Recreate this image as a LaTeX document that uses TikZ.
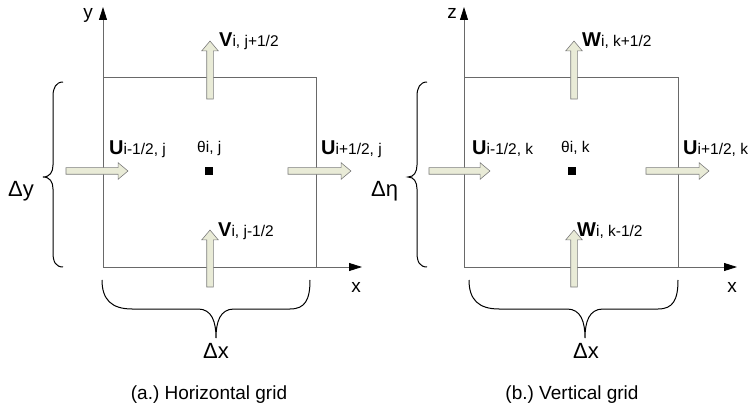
\documentclass[tikz,border=0pt]{standalone}
\usepackage{fontspec}
\setmainfont{Liberation Sans}
\frenchspacing
\usetikzlibrary{arrows.meta, shapes.arrows}
\definecolor{fluxfill}{RGB}{233,235,215}
\definecolor{fluxline}{RGB}{125,125,125}
\definecolor{gridline}{RGB}{105,105,105}
\newcommand{\flux}[2]{{\fontsize{20}{23}\selectfont\bfseries #1}#2}

\begin{document}
\begin{tikzpicture}[x=1pt, y=-1pt,
        % cell outline
        cell/.style={draw=gridline, line width=0.8pt},
        % coordinate axes
        axis/.style={draw=gridline, line width=0.8pt, -{Triangle[length=13pt, width=8pt, color=black]}},
        % face velocity arrows
        flow/.style={single arrow, draw=fluxline, fill=fluxfill, line width=0.6pt, inner sep=3pt, single arrow head extend=5pt, single arrow tip angle=80, minimum height=#1},
        % labels
        lab/.style={anchor=base west, inner sep=0pt, font=\fontsize{15.5}{18}\selectfont},
        axlab/.style={anchor=base, inner sep=0pt, font=\fontsize{19}{22}\selectfont},
        big/.style={inner sep=0pt, font=\fontsize{22}{26}\selectfont},
        caption/.style={anchor=base, inner sep=0pt, font=\fontsize{19}{23}\selectfont},
        centre/.style={fill=black, minimum size=8pt, inner sep=0pt},
        brace/.style={draw=black, line width=1pt}
    ]
    \useasboundingbox (0,0) rectangle (750,406);

    % (a.) horizontal grid
    \coordinate (oa) at (103,267);
    \coordinate (ta) at (316,77);
    \coordinate (ya) at (103,7);
    \coordinate (xa) at (362,267);
    \draw[cell] (oa) rectangle (ta);
    \draw[axis] (oa) -- (ya);
    \draw[axis] (oa) -- (xa);
    \node[axlab] (ylab) at (88,19) {y};
    \node[axlab] (xlab) at (356,292) {x};

    \node[flow=62pt] (ula) at (95,171) {};
    \node[flow=63pt] (ura) at (317.5,171) {};
    \node[flow=58pt, rotate=90] (vta) at (210,72) {};
    \node[flow=57pt, rotate=90] (vba) at (210,260.5) {};
    \node[centre] (ca) at (209,171) {};

    \node[lab] (uml) at (109,155) {\flux{U}{i-1/2, j}};
    \node[lab] (thla) at (197,153) {θi, j};
    \node[lab] (upl) at (321,155) {\flux{U}{i+1/2, j}};
    \node[lab] (vpl) at (219,47) {\flux{V}{i, j+1/2}};
    \node[lab] (vml) at (218,237) {\flux{V}{i, j-1/2}};

    \draw[brace] (63,82) .. controls (56,82) and (53,88) .. (53,96) -- (53,165)
        .. controls (53,172) and (50,177) .. (43,177)
        .. controls (50,177) and (53,182) .. (53,189) -- (53,253)
        .. controls (53,262) and (56,267) .. (63,267);
    \draw[brace] (102,280) .. controls (102,300) and (112,309) .. (132,309) -- (198,309)
        .. controls (212,309) and (216,322) .. (216,338)
        .. controls (216,322) and (220,309) .. (234,309) -- (290,309)
        .. controls (305,309) and (310,300) .. (310,280);
    \node[big, anchor=base west] (dya) at (8,197) {Δy};
    \node[big, anchor=base] (dxa) at (216,358) {Δx};
    \node[caption] (capa) at (209,399) {(a.) Horizontal grid};

    % (b.) vertical grid
    \coordinate (ob) at (464,267);
    \coordinate (tb) at (678,77);
    \coordinate (zb) at (464,7);
    \coordinate (xb) at (737,267);
    \draw[cell] (ob) rectangle (tb);
    \draw[axis] (ob) -- (zb);
    \draw[axis] (ob) -- (xb);
    \node[axlab] (zlab) at (452,19) {z};
    \node[axlab] (xlabb) at (732,292) {x};

    \node[flow=61pt] (ulb) at (457.5,171) {};
    \node[flow=63pt] (urb) at (675.5,171) {};
    \node[flow=58pt, rotate=90] (wtb) at (574,72) {};
    \node[flow=57pt, rotate=90] (wbb) at (574,260.5) {};
    \node[centre] (cb) at (572,171) {};

    \node[lab] (umlb) at (472,155) {\flux{U}{i-1/2, k}};
    \node[lab] (thlb) at (561,153) {θi, k};
    \node[lab] (uplb) at (683,155) {\flux{U}{i+1/2, k}};
    \node[lab] (wpl) at (582,47) {\flux{W}{i, k+1/2}};
    \node[lab] (wml) at (577,237) {\flux{W}{i, k-1/2}};

    \draw[brace] (427,82) .. controls (420,82) and (417,88) .. (417,96) -- (417,165)
        .. controls (417,172) and (414,177) .. (408,177)
        .. controls (414,177) and (417,182) .. (417,189) -- (417,253)
        .. controls (417,262) and (420,267) .. (427,267);
    \draw[brace] (469,280) .. controls (469,300) and (479,309) .. (499,309) -- (567,309)
        .. controls (581,309) and (585,322) .. (585,338)
        .. controls (585,322) and (589,309) .. (603,309) -- (658,309)
        .. controls (673,309) and (678,300) .. (678,280);
    \node[big, anchor=base west] (detb) at (371,197) {Δη};
    \node[big, anchor=base] (dxb) at (586,358) {Δx};
    \node[caption] (capb) at (572,399) {(b.) Vertical grid};

\end{tikzpicture}
\end{document}
